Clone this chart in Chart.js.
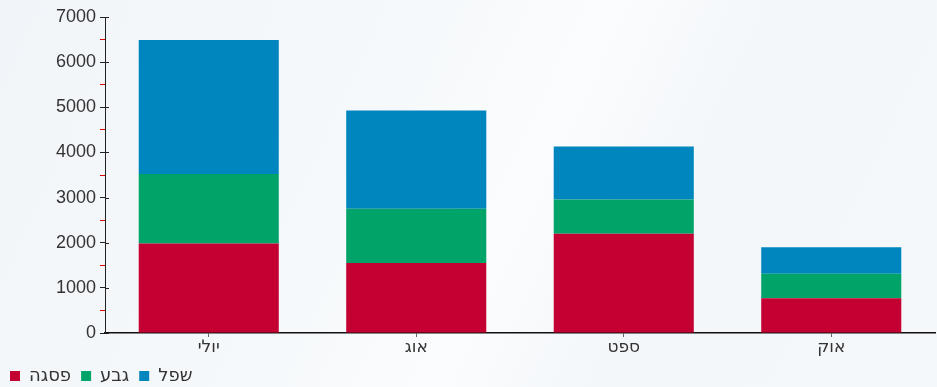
<!DOCTYPE html>
<html>
<head>
<meta charset="utf-8">
<script src="https://cdn.jsdelivr.net/npm/chart.js@4"></script>
<style>
	html, body { margin: 0; padding: 0; }
	body {
		width: 937px;
		height: 387px;
		background: linear-gradient(115deg, #f1f5f9 0%, #f6f9fb 40%, #fbfcfd 55%, #f3f7fa 70%, #f5f8fb 100%);
	}
	#wrap { position: relative; width: 937px; height: 387px; }
</style>
</head>
<body>
<div id="wrap"><canvas id="chart"></canvas></div>
<script>
const months = ['יולי', 'אוג', 'ספט', 'אוק'];
const peakValues = [1980, 1550, 2200, 770];
const midValues = [1540, 1200, 760, 540];
const lowValues = [2970, 2180, 1170, 590];
const seriesNames = ['פסגה', 'גבע', 'שפל'];
const seriesColors = ['#c40032', '#00a368', '#0086be'];

const NUM_FONT = "'Liberation Sans', Arial, sans-serif";
const HEB_FONT = "'DejaVu Sans', sans-serif";

// major ticks also poke into the plot a few px, like the original
const majorTickPlugin = {
	id: 'majorTicks',
	afterDraw(chart) {
		const y = chart.scales.y;
		const ctx = chart.ctx;
		ctx.save();
		ctx.strokeStyle = '#222';
		ctx.lineWidth = 1;
		y.ticks.forEach(t => {
			if (t.value % 1000 !== 0) return;
			const py = Math.round(y.getPixelForValue(t.value)) + 0.5;
			ctx.beginPath();
			ctx.moveTo(y.right, py);
			ctx.lineTo(y.right + 4, py);
			ctx.stroke();
		});
		ctx.restore();
	}
};

function initializeChart(chartElement) {
	const ctx = chartElement.getContext('2d');
	const data = [peakValues, midValues, lowValues];

	return new Chart(ctx, {
		type: 'bar',
		data: {
			labels: months,
			datasets: seriesNames.map((name, i) => ({
				label: name,
				data: data[i],
				backgroundColor: seriesColors[i],
				borderWidth: 0,
				categoryPercentage: 1,
				barPercentage: 0.675,
			})),
		},
		options: {
			responsive: true,
			maintainAspectRatio: false,
			animation: false,
			layout: { padding: { top: 17, right: 2, left: 0, bottom: -8 } },
			scales: {
				x: {
					stacked: true,
					grid: {
						display: true,
						offset: false,
						drawOnChartArea: false,
						tickLength: 4,
						tickColor: '#666',
					},
					border: { color: '#111', width: 1.5 },
					ticks: {
						color: '#333',
						font: { family: HEB_FONT, size: 17 },
						padding: 0,
					},
					afterFit: scale => { scale.height = 24; },
				},
				y: {
					stacked: true,
					min: 0,
					max: 7000,
					grid: {
						display: true,
						drawOnChartArea: false,
						tickLength: 5,
						tickColor: ctx => (ctx.tick && ctx.tick.value % 1000 === 0 ? '#222' : '#e00000'),
					},
					border: { color: '#222', width: 1 },
					ticks: {
						stepSize: 500,
						autoSkip: false,
						color: '#333',
						font: { family: NUM_FONT, size: 18 },
						padding: 4,
						callback: value => (value % 1000 === 0 ? value : ''),
					},
					afterFit: scale => { scale.width = 105; },
				},
			},
			plugins: {
				legend: {
					position: 'bottom',
					align: 'start',
					labels: {
						boxWidth: 10,
						boxHeight: 10,
						padding: 10,
						color: '#333',
						font: { family: HEB_FONT, size: 18 },
					},
				},
				tooltip: { enabled: false },
			},
		},
		plugins: [majorTickPlugin],
	});
}

initializeChart(document.getElementById('chart'));
</script>
</body>
</html>
